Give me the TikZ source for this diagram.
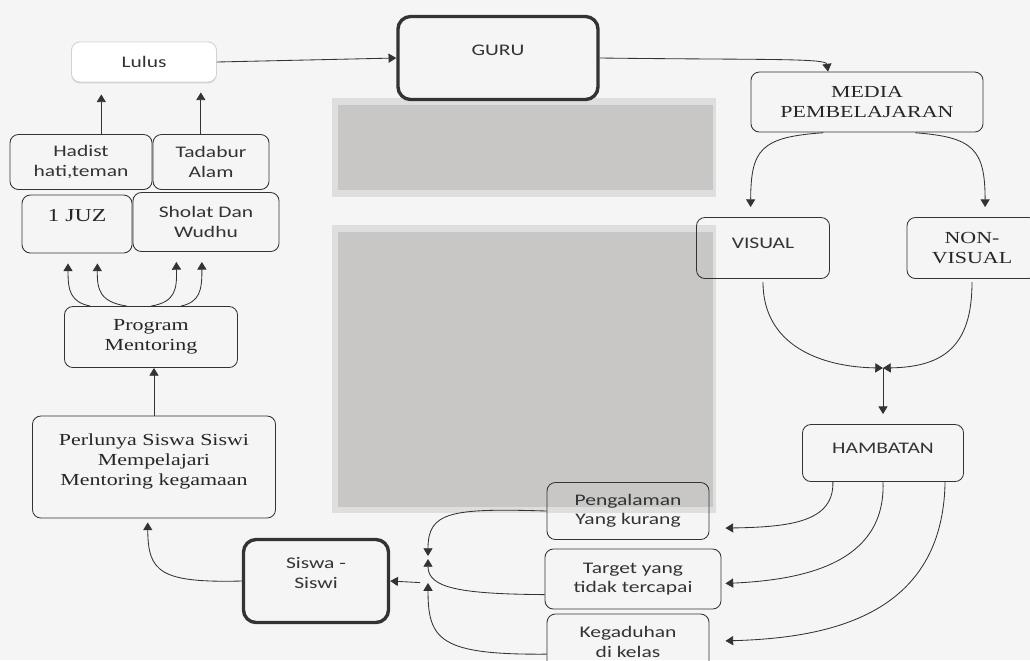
\documentclass[tikz,border=0pt]{standalone}
\usepackage{fontspec}
\newfontfamily\sansf[FakeStretch=1.33]{Carlito}
\newfontfamily\seriff[FakeStretch=1.3]{Liberation Serif}
\usepackage{xcolor}
\usepackage{tikz}
\usetikzlibrary{arrows.meta}
\usetikzlibrary{shadows}
\definecolor{linecol}{HTML}{333333}
\definecolor{textgray}{HTML}{333333}
\definecolor{blotch}{HTML}{C8C7C5}
\definecolor{blotchrim}{HTML}{DEDEDE}
\definecolor{paper}{HTML}{F5F5F5}
\tikzset{
    tnode/.style = {align=center, inner sep=0pt, text centered},
    sbox/.style = {tnode, rectangle, rounded corners=6pt, draw=linecol, semithick, text=textgray, font=\sansf\fontsize{11.5}{13.8}\selectfont},
    rbox/.style = {sbox, text=black!85, font=\seriff\fontsize{12}{14.4}\selectfont},
    heavy/.style = {line width=2.4pt, rounded corners=9pt},
    lift/.style = {text depth=#1},
    conn/.style = {->, linecol, semithick}
}

\begin{document}
\begin{tikzpicture}[x=0.025cm, y=-0.025cm, >={Triangle[length=5.5pt, width=6.5pt]}]
    \fill[paper] (0,0) rectangle (1030,660);
    \useasboundingbox (0,0) rectangle (1030,660);
    % grey blocks
    \fill[blotchrim] (332,98) rectangle (716,197);
    \fill[blotch] (338,105) rectangle (713,190);
    \fill[blotchrim] (332,225) rectangle (716,513);
    \fill[blotch] (338,232) rectangle (713,507);

    \node [sbox, fill=white, draw=gray!35, drop shadow={shadow xshift=0pt, shadow yshift=-1pt, opacity=0.3}, minimum width=3.625cm, minimum height=1cm] (lulus) at (144,62) {Lulus};
    \node [sbox, heavy, lift=0.4cm, minimum width=5cm, minimum height=2.075cm] (guru) at (498,58) {GURU};
    \node [rbox, minimum width=5.8cm, minimum height=1.5cm] (media) at (867,102) {MEDIA\\PEMBELAJARAN};
    \node [sbox, lift=0.25cm, minimum width=3.325cm, minimum height=1.525cm] (visual) at (763,248) {VISUAL};
    \node [rbox, minimum width=3.25cm, minimum height=1.525cm] (nonvisual) at (972,248) {NON-\\VISUAL};
    \node [sbox, lift=0.25cm, minimum width=4.025cm, minimum height=1.425cm] (hambatan) at (883,453) {HAMBATAN};
    \node [sbox, minimum width=4.05cm, minimum height=1.425cm] (pengalaman) at (628,511) {Pengalaman\\Yang kurang};
    \node [sbox, minimum width=4.4cm, minimum height=1.5cm] (target) at (633,579) {Target yang\\tidak tercapai};
    \node [sbox, lift=0.25cm, minimum width=4.05cm, minimum height=1.65cm] (gaduh) at (628,647) {Kegaduhan\\di kelas};
    \node [sbox, heavy, lift=0.4cm, minimum width=3.625cm, minimum height=2.075cm] (siswa) at (316,581) {Siswa -\\Siswi};
    \node [rbox, lift=0.38cm, minimum width=6.075cm, minimum height=2.55cm] (perlu) at (154,467) {Perlunya Siswa Siswi\\Mempelajari\\Mentoring kegamaan};
    \node [rbox, minimum width=4.325cm, minimum height=1.525cm] (program) at (151,337) {Program\\Mentoring};
    \node [rbox, lift=0.45cm, font=\seriff\fontsize{13}{15}\selectfont, minimum width=2.75cm, minimum height=1.45cm] (juz) at (77,224) {1 JUZ};
    \node [sbox, minimum width=3.65cm, minimum height=1.475cm] (sholat) at (206,222) {Sholat Dan\\Wudhu};
    \node [sbox, minimum width=3.55cm, minimum height=1.375cm] (hadist) at (81,162) {Hadist\\hati,teman};
    \node [sbox, minimum width=2.9cm, minimum height=1.375cm] (tadabur) at (211,162) {Tadabur\\Alam};

    \coordinate (vmerge) at (883,368);
    \coordinate (jtop) at (428,556);
    \coordinate (jmid) at (428,559);
    \coordinate (jlow) at (428,583);

    % top row
    \draw [conn] (lulus.east) -- (guru.west);
    \draw [conn] (guru.east) .. controls (760,60) and (826,58) .. (media.142);
    % media branches
    \draw [conn, shorten <=0.12cm, shorten >=0.25cm] (media.218) .. controls (760,137) and (751,150) .. (visual.112);
    \draw [conn, shorten <=0.12cm, shorten >=0.25cm] (media.325) .. controls (974,137) and (985,150) .. (nonvisual.67);
    \draw [conn, shorten <=0.08cm] (visual.south) .. controls (763,345) and (820,367) .. (vmerge);
    \draw [conn, shorten <=0.08cm] (nonvisual.south) .. controls (972,345) and (945,367) .. (vmerge);
    \draw [conn, shorten >=0.25cm] (vmerge) -- (hambatan.north);
    % hambatan to causes
    \draw [conn, shorten >=0.4cm] (hambatan.210) .. controls (834,522) and (790,527) .. (pengalaman.-12);
    \draw [conn, shorten >=0.1cm] (hambatan.south) .. controls (886,565) and (800,580) .. (target.-3);
    \draw [conn, shorten >=0.4cm] (hambatan.-25) .. controls (943,615) and (830,638) .. (gaduh.4);
    % causes to siswa
    \draw [conn] (pengalaman.west) .. controls (450,508) and (428,512) .. (jtop);
    \draw [conn] (target.190) .. controls (460,594) and (428,588) .. (jmid);
    \draw [conn] (gaduh.185) .. controls (440,655) and (428,640) .. (jlow);
    \draw [conn, shorten <=0.2cm] (jlow) -- (siswa.east);
    \draw [conn, shorten >=0.1cm] (siswa.west) .. controls (160,583) and (148,572) .. (perlu.263);
    \draw [conn] (perlu.north) -- (perlu.north |- program.south);
    % program to its parts
    \draw [conn, shorten >=0.25cm] (program.153) .. controls (70,302) and (68,290) .. (juz.253);
    \draw [conn, shorten >=0.25cm] (program.128) .. controls (100,302) and (97,290) .. (juz.-55);
    \draw [conn, shorten >=0.25cm] (program.north) .. controls (175,302) and (177,290) .. (sholat.225);
    \draw [conn, shorten >=0.25cm] (program.46) .. controls (200,302) and (202,290) .. (sholat.262);
    \draw [conn, shorten >=0.3cm] (hadist.54) -- (hadist.54 |- lulus.south);
    \draw [conn, shorten >=0.25cm] (tadabur.110) -- (tadabur.110 |- lulus.south);
\end{tikzpicture}
\end{document}
